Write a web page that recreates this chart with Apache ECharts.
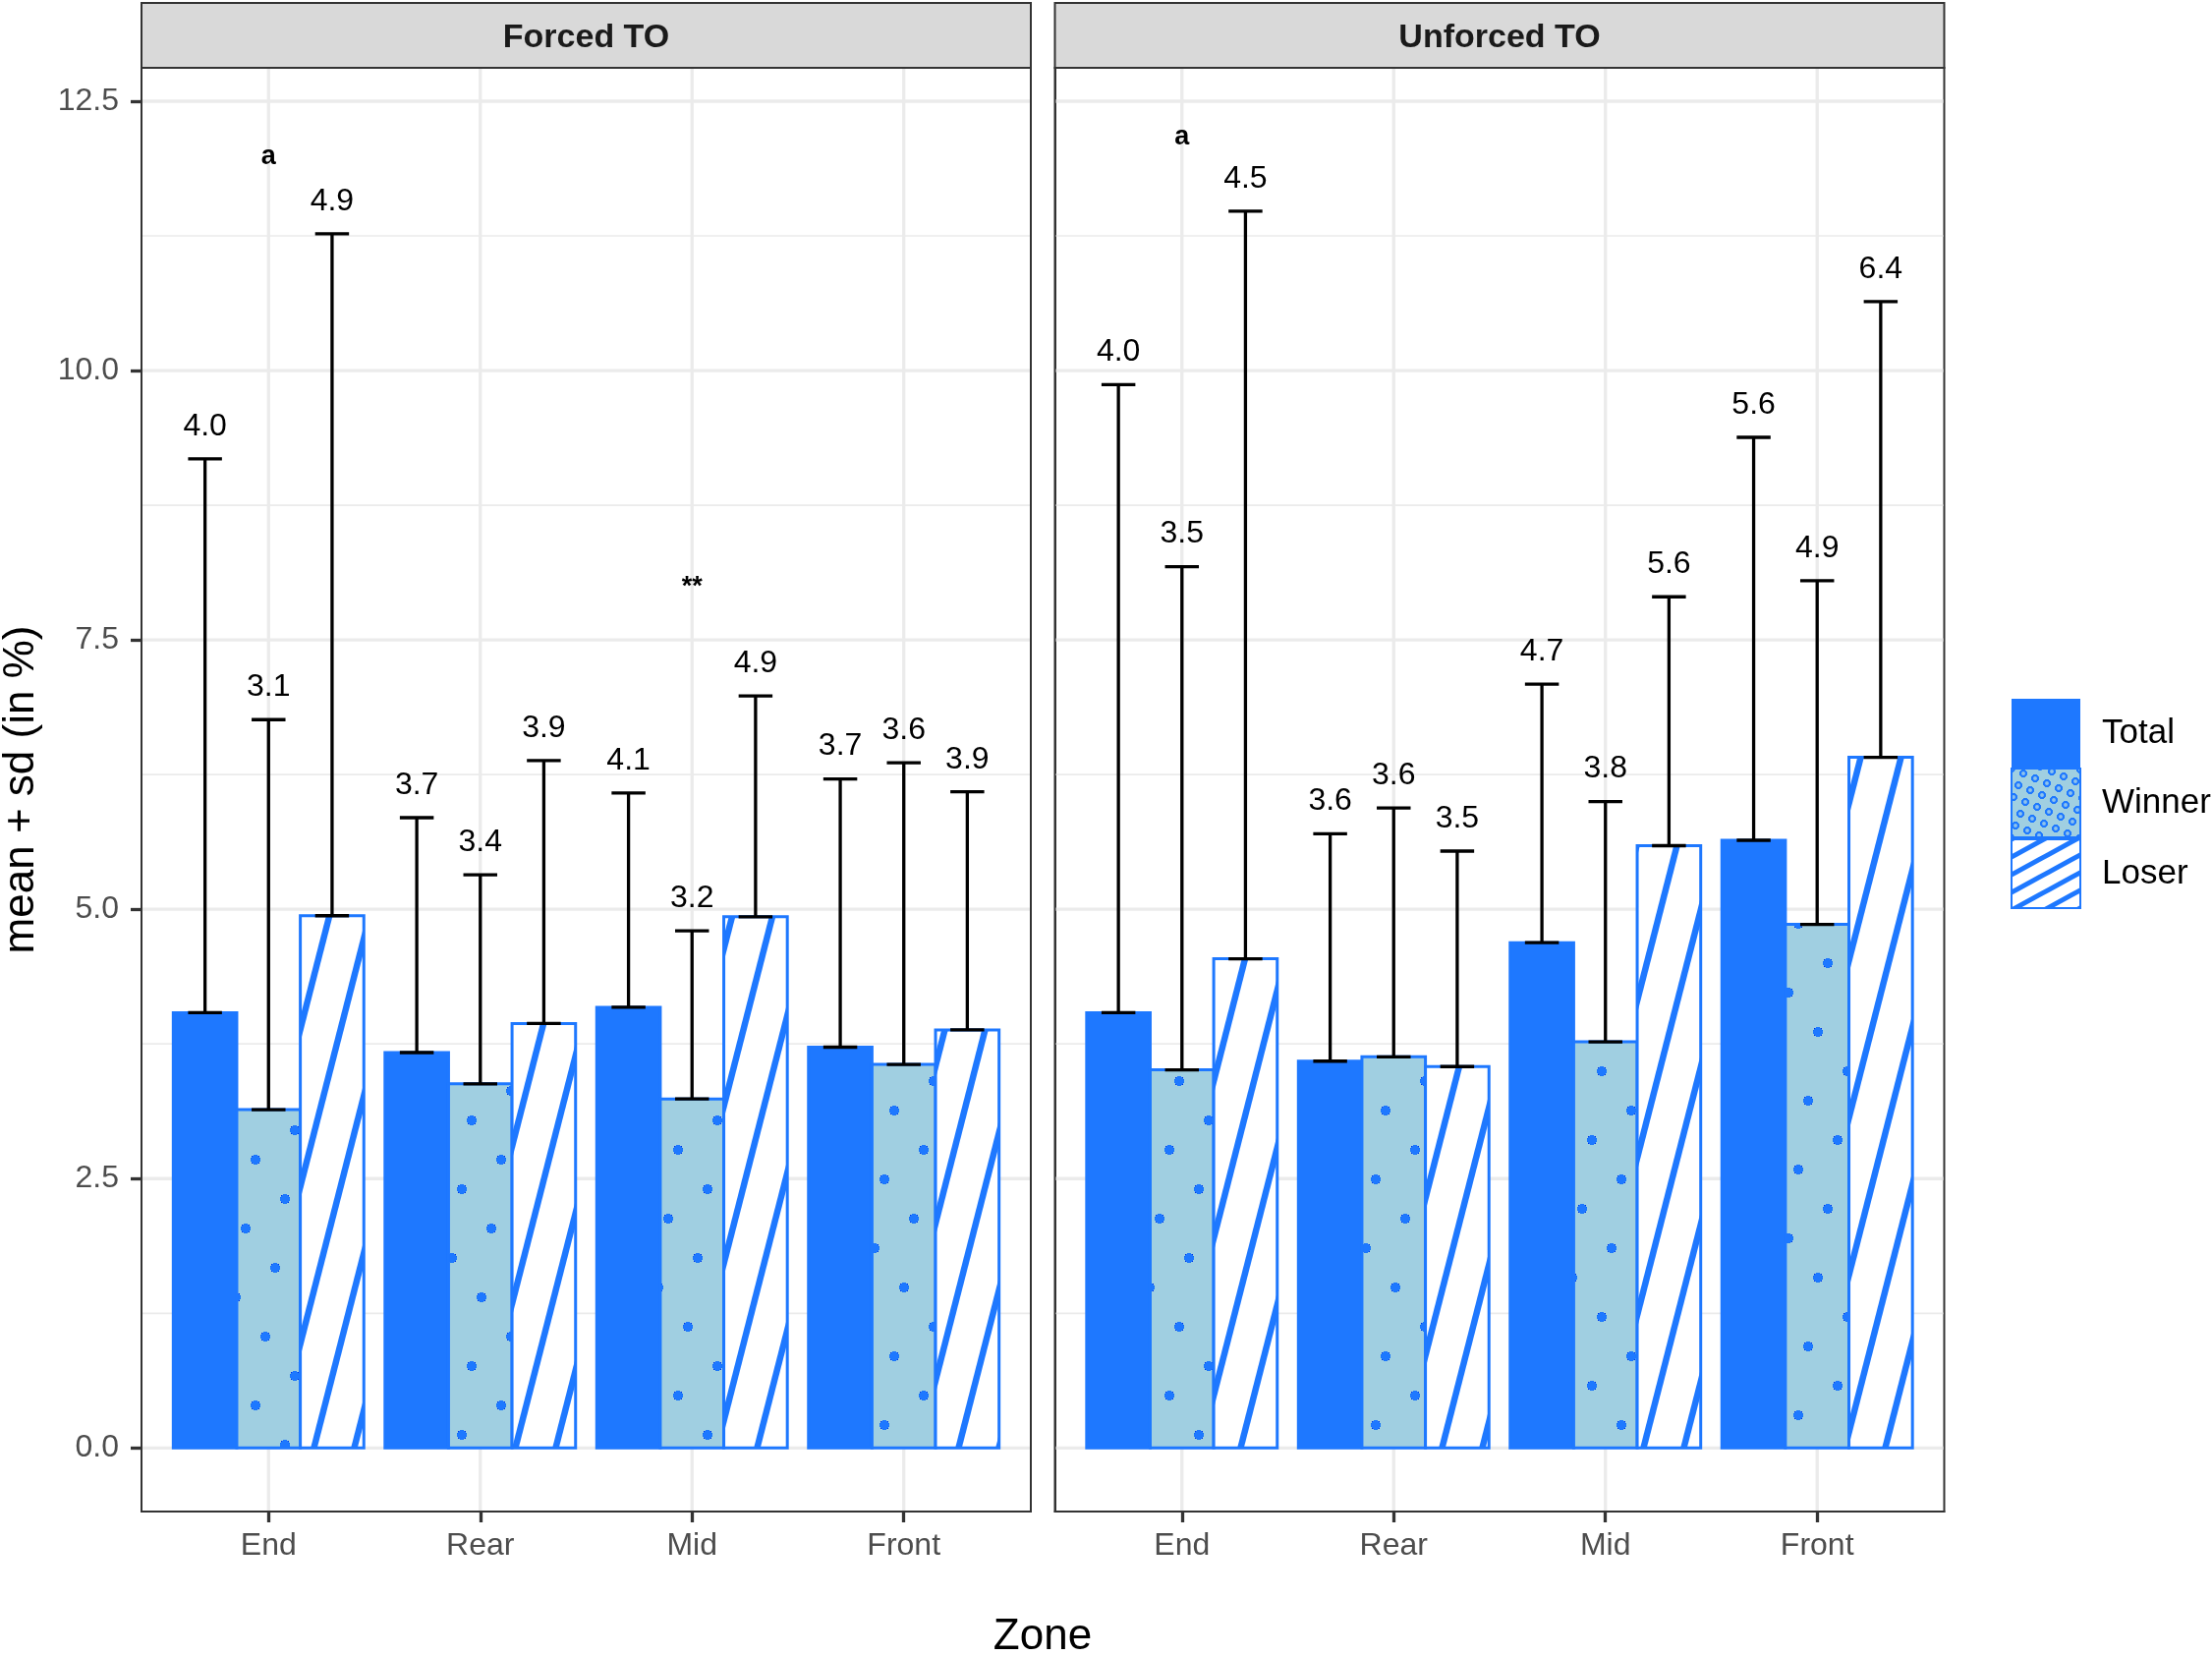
<!DOCTYPE html>
<html>

<head>
  <meta charset="utf-8" />
  <title>Turnovers by zone</title>
  <style>
    html, body {
      margin: 0;
      padding: 0;
      background-color: #ffffff;
    }
  </style>
  <script src="https://cdn.jsdelivr.net/npm/echarts@6.0.0/dist/echarts.min.js"></script>
</head>

<body>
  <div id="main" style="width: 2251px;height:1685px;"></div>
  <script type="text/javascript">
    // categories
    var zones = ['End', 'Rear', 'Mid', 'Front'];
    var panels = ['Forced TO', 'Unforced TO'];
    var groups = ['Total', 'Winner', 'Loser'];

    // Forced TO: mean and sd per zone
    var forcedTotal = [4.04, 3.67, 4.09, 3.72];
    var forcedTotalSd = [5.14, 2.18, 1.99, 2.49];
    var forcedWinner = [3.14, 3.38, 3.24, 3.56];
    var forcedWinnerSd = [3.62, 1.94, 1.56, 2.80];
    var forcedLoser = [4.94, 3.94, 4.93, 3.88];
    var forcedLoserSd = [6.33, 2.44, 2.05, 2.21];

    // Unforced TO: mean and sd per zone
    var unforcedTotal = [4.04, 3.59, 4.69, 5.64];
    var unforcedTotalSd = [5.83, 2.11, 2.40, 3.74];
    var unforcedWinner = [3.51, 3.63, 3.77, 4.86];
    var unforcedWinnerSd = [4.67, 2.31, 2.23, 3.19];
    var unforcedLoser = [4.54, 3.54, 5.59, 6.41];
    var unforcedLoserSd = [6.94, 2.00, 2.31, 4.23];

    // significance marks
    var forcedNoteZone = ['End', 'Mid'];
    var forcedNoteY = [11.98, 7.99];
    var forcedNoteText = ['a', '**'];
    var unforcedNoteZone = ['End'];
    var unforcedNoteY = [12.17];
    var unforcedNoteText = ['a'];

    // axis breaks
    var majorBreaks = [0, 2.5, 5, 7.5, 10, 12.5];
    var minorBreaks = [1.25, 3.75, 6.25, 8.75, 11.25];
    var zoneTicks = [1, 2, 3, 4];

    var FONT = '"Liberation Sans", Arial, Helvetica, sans-serif';
    var BLUE = '#1E78FF';
    var LIGHT = '#A0CFE1';
    var BAR_W = 0.3;   // bar width in category units
    var CAP_W = 0.16;  // errorbar cap width
    var PANEL_LEFT = [144, 1073.5];
    var PANEL_W = 905;
    var PANEL_TOP = 69;
    var PANEL_H = 1469;

    // pattern tiles
    function dotTile(size, v1, v2, r, ring) {
      var c = document.createElement('canvas');
      c.width = size; c.height = size;
      var ctx = c.getContext('2d');
      ctx.fillStyle = LIGHT;
      ctx.fillRect(0, 0, size, size);
      var n = Math.round(size / 4);
      for (var m = 0; m < n; m++) {
        for (var k = 0; k < n; k++) {
          var px = ((m * v1[0] + k * v2[0]) % size + size) % size;
          var py = ((m * v1[1] + k * v2[1]) % size + size) % size;
          for (var dx = -size; dx <= size; dx += size) {
            for (var dy = -size; dy <= size; dy += size) {
              ctx.beginPath();
              ctx.arc(px + dx, py + dy, r, 0, Math.PI * 2);
              if (ring) {
                ctx.fillStyle = '#8FC3EC';
                ctx.fill();
                ctx.strokeStyle = BLUE;
                ctx.lineWidth = 1.5;
                ctx.stroke();
              } else {
                ctx.fillStyle = BLUE;
                ctx.fill();
              }
            }
          }
        }
      }
      return c;
    }
    function stripeTile(w, h, lw) {
      var c = document.createElement('canvas');
      c.width = w; c.height = h;
      var ctx = c.getContext('2d');
      ctx.fillStyle = '#ffffff';
      ctx.fillRect(0, 0, w, h);
      ctx.strokeStyle = BLUE;
      ctx.lineWidth = lw;
      for (var k = -2; k <= 2; k++) {
        ctx.beginPath();
        ctx.moveTo(k * w - w, 2 * h);
        ctx.lineTo(k * w + 2 * w, -h);
        ctx.stroke();
      }
      return c;
    }

    var fills = [
      BLUE,
      { image: dotTile(250, [30, 40], [-40, 30], 4.4, false), repeat: 'repeat' },
      { image: stripeTile(41, 160, 6.5), repeat: 'repeat' }
    ];
    var legendFills = [
      BLUE,
      { image: dotTile(169, [12, 5], [-5, 12], 2.7, true), repeat: 'repeat' },
      { image: stripeTile(33, 18, 5), repeat: 'repeat' }
    ];

    function barSeries(panelIdx, groupIdx, means, sds) {
      var offset = (groupIdx - 1) * BAR_W;
      return {
        type: 'custom',
        name: groups[groupIdx],
        xAxisIndex: panelIdx,
        yAxisIndex: panelIdx,
        z: 3,
        itemStyle: { color: fills[groupIdx], borderColor: BLUE, borderWidth: 3 },
        data: means.map(function (m, i) { return [i + 1, m, sds[i]]; }),
        renderItem: function (params, api) {
          var x = api.value(0) + offset;
          var mean = api.value(1);
          var sd = api.value(2);
          var tl = api.coord([x - BAR_W / 2, mean]);
          var br = api.coord([x + BAR_W / 2, 0]);
          var base = api.coord([x, mean]);
          var top = api.coord([x, mean + sd]);
          var capL = api.coord([x - CAP_W / 2, mean])[0];
          var capR = api.coord([x + CAP_W / 2, mean])[0];
          return {
            type: 'group',
            children: [
              {
                type: 'rect',
                shape: { x: tl[0], y: tl[1], width: br[0] - tl[0], height: br[1] - tl[1] },
                style: { fill: fills[groupIdx], stroke: BLUE, lineWidth: 3 }
              },
              { type: 'line', shape: { x1: base[0], y1: base[1], x2: top[0], y2: top[1] }, style: { stroke: '#000000', lineWidth: 3.3 } },
              { type: 'line', shape: { x1: capL, y1: top[1], x2: capR, y2: top[1] }, style: { stroke: '#000000', lineWidth: 3.3 } },
              { type: 'line', shape: { x1: capL, y1: base[1], x2: capR, y2: base[1] }, style: { stroke: '#000000', lineWidth: 3.3 } },
              {
                type: 'text',
                x: top[0],
                y: top[1] - 33,
                style: {
                  text: mean.toFixed(1), fill: '#000000', fontSize: 32, fontFamily: FONT,
                  align: 'center', verticalAlign: 'middle'
                }
              }
            ]
          };
        }
      };
    }

    // panel grid lines
    function gridSeries(panelIdx) {
      var data = majorBreaks.map(function (v) { return [0, v]; })
        .concat(minorBreaks.map(function (v) { return [1, v]; }))
        .concat(zoneTicks.map(function (v) { return [2, v]; }));
      return {
        type: 'custom',
        xAxisIndex: panelIdx,
        yAxisIndex: panelIdx,
        z: 1,
        silent: true,
        data: data,
        renderItem: function (params, api) {
          var kind = api.value(0);
          var v = api.value(1);
          var cs = params.coordSys;
          if (kind === 2) {
            var px = api.coord([v, 0])[0];
            return {
              type: 'line',
              shape: { x1: px, y1: cs.y + 1, x2: px, y2: cs.y + cs.height - 1 },
              style: { stroke: '#EBEBEB', lineWidth: 3.3 }
            };
          }
          var py = api.coord([1, v])[1];
          return {
            type: 'line',
            shape: { x1: cs.x + 1, y1: py, x2: cs.x + cs.width - 1, y2: py },
            style: { stroke: '#EBEBEB', lineWidth: kind === 0 ? 3.3 : 1.7 }
          };
        }
      };
    }

    function noteSeries(panelIdx, noteZone, noteY, noteText) {
      return {
        type: 'custom',
        xAxisIndex: panelIdx,
        yAxisIndex: panelIdx,
        z: 4,
        silent: true,
        data: noteZone.map(function (z, i) { return [zones.indexOf(z) + 1, noteY[i]]; }),
        renderItem: function (params, api) {
          var p = api.coord([api.value(0), api.value(1)]);
          return {
            type: 'text',
            x: p[0],
            y: p[1],
            style: {
              text: noteText[params.dataIndex], fill: '#000000', fontSize: 27,
              fontWeight: 'bold', fontFamily: FONT, align: 'center', verticalAlign: 'middle'
            }
          };
        }
      };
    }

    var myChart = echarts.init(document.getElementById('main'));

    var option = {
      animation: false,
      backgroundColor: '#ffffff',
      textStyle: { fontFamily: FONT },
      grid: panels.map(function (p, i) {
        return {
          left: PANEL_LEFT[i], top: PANEL_TOP, width: PANEL_W, height: PANEL_H,
          show: true, borderColor: '#333333', borderWidth: 2, backgroundColor: '#ffffff'
        };
      }),
      xAxis: panels.map(function (p, i) {
        return {
          type: 'value',
          gridIndex: i,
          min: 0.4,
          max: 4.6,
          axisLine: { show: true, onZero: false, lineStyle: { color: '#333333', width: 2 } },
          splitLine: { show: false },
          axisTick: {
            show: true,
            customValues: zoneTicks,
            length: 11,
            lineStyle: { color: '#333333', width: 3.3 }
          },
          axisLabel: {
            customValues: zoneTicks,
            formatter: function (v) { return zones[Math.round(v) - 1]; },
            fontSize: 32,
            color: '#4D4D4D',
            margin: 19
          }
        };
      }),
      yAxis: panels.map(function (p, i) {
        return {
          type: 'value',
          gridIndex: i,
          min: -0.59,
          max: 12.81,
          axisLine: { show: true, onZero: false, lineStyle: { color: '#333333', width: 2 } },
          splitLine: { show: false },
          axisTick: {
            show: i === 0,
            customValues: majorBreaks,
            length: 11,
            lineStyle: { color: '#333333', width: 3.3 }
          },
          axisLabel: {
            show: i === 0,
            customValues: majorBreaks,
            formatter: function (v) { return v.toFixed(1); },
            fontSize: 32,
            color: '#4D4D4D',
            margin: 23
          }
        };
      }),
      legend: {
        orient: 'vertical',
        left: 2046,
        top: 711,
        padding: 0,
        itemWidth: 70,
        itemHeight: 70,
        itemGap: 0,
        icon: 'rect',
        selectedMode: false,
        textStyle: { fontSize: 35, color: '#000000', padding: [0, 0, 0, 17] },
        data: groups.map(function (g, i) {
          return {
            name: g,
            itemStyle: {
              color: legendFills[i],
              borderColor: BLUE,
              borderWidth: i === 0 ? 0 : 2
            }
          };
        })
      },
      graphic: [
        {
          type: 'text',
          x: 21.5,
          y: 803.5,
          rotation: Math.PI / 2,
          style: {
            text: 'mean + sd (in %)', fontSize: 44, fill: '#000000', fontFamily: FONT,
            align: 'center', verticalAlign: 'middle'
          }
        },
        {
          type: 'text',
          x: 1061,
          y: 1666,
          style: {
            text: 'Zone', fontSize: 44, fill: '#000000', fontFamily: FONT,
            align: 'center', verticalAlign: 'middle'
          }
        }
      ].concat(panels.map(function (p, i) {
        return {
          type: 'group',
          children: [
            {
              type: 'rect',
              shape: { x: PANEL_LEFT[i], y: 3, width: PANEL_W, height: PANEL_TOP - 3 },
              style: { fill: '#D9D9D9', stroke: '#333333', lineWidth: 2 }
            },
            {
              type: 'text',
              x: PANEL_LEFT[i] + PANEL_W / 2,
              y: 39,
              style: {
                text: p, fontSize: 34, fontWeight: 'bold', fill: '#1A1A1A', fontFamily: FONT,
                align: 'center', verticalAlign: 'middle'
              }
            }
          ]
        };
      })),
      series: [
        gridSeries(0),
        gridSeries(1),
        barSeries(0, 0, forcedTotal, forcedTotalSd),
        barSeries(0, 1, forcedWinner, forcedWinnerSd),
        barSeries(0, 2, forcedLoser, forcedLoserSd),
        barSeries(1, 0, unforcedTotal, unforcedTotalSd),
        barSeries(1, 1, unforcedWinner, unforcedWinnerSd),
        barSeries(1, 2, unforcedLoser, unforcedLoserSd),
        noteSeries(0, forcedNoteZone, forcedNoteY, forcedNoteText),
        noteSeries(1, unforcedNoteZone, unforcedNoteY, unforcedNoteText)
      ]
    };
    myChart.setOption(option);
  </script>
</body>

</html>
